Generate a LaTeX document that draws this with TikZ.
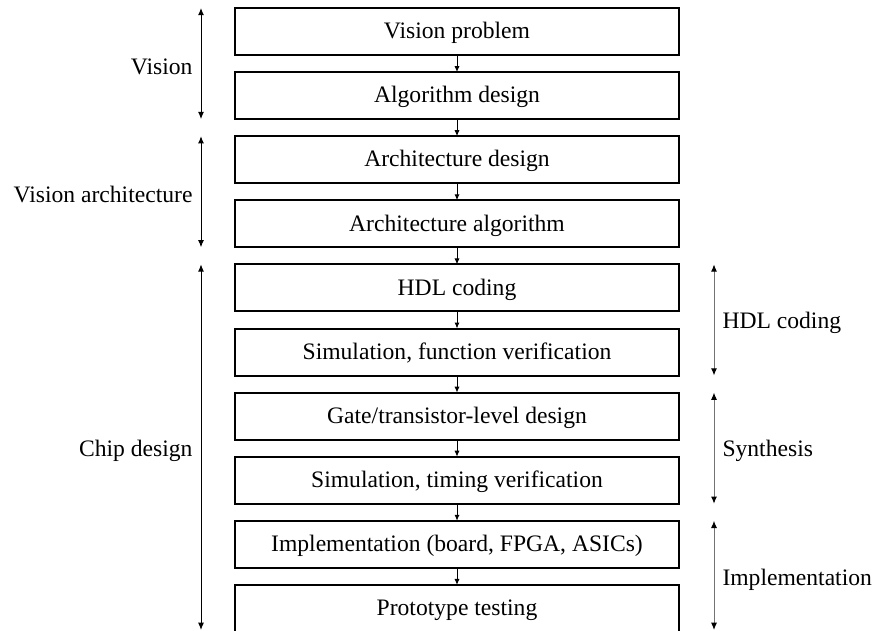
\documentclass[tikz,border=0pt]{standalone}
\usepackage{fontspec}
\setmainfont{Liberation Serif}
\usetikzlibrary{arrows.meta,positioning}

\begin{document}
\begin{tikzpicture}[x=0.5pt,y=-0.5pt,node distance=8.55pt,
  stage/.style={draw,line width=1pt,minimum width=222pt,minimum height=23.5pt,inner sep=0pt,outer sep=0pt,text height=9.5pt,text depth=2.2pt,font=\fontsize{11.8}{14}\selectfont},
  flow/.style={-{Latex[length=3pt,width=2.6pt]},line width=0.5pt},
  span/.style={{Latex[length=3.6pt,width=3pt]}-{Latex[length=3.6pt,width=3pt]},line width=0.5pt},
  rspan/.style={{Latex[length=3.6pt,width=3pt,color=black]}-{Latex[length=3.6pt,width=3pt,color=black]},line width=0.5pt,draw=black!55},
  tag/.style={font=\fontsize{11.8}{14}\selectfont,inner sep=0pt,yshift=-1.5pt}]
\useasboundingbox (0,0) rectangle (878,631);
% design flow, top to bottom
\node[stage] (b1) at (457,31.5) {Vision problem};
\node[stage,below=of b1] (b2) {Algorithm design};
\node[stage,below=of b2] (b3) {Architecture design};
\node[stage,below=of b3] (b4) {Architecture algorithm};
\node[stage,below=of b4] (b5) {HDL coding};
\node[stage,below=of b5] (b6) {Simulation, function verification};
\node[stage,below=of b6] (b7) {Gate/transistor-level design};
\node[stage,below=of b7] (b8) {Simulation, timing verification};
\node[stage,below=of b8] (b9) {Implementation (board, FPGA, ASICs)};
\node[stage,below=of b9] (b10) {Prototype testing};
\foreach \i [count=\j from 2] in {1,...,9} \draw[flow] (b\i) -- (b\j);
% phase spans
\coordinate (lx) at (201,0);
\coordinate (rx) at (714,0);
\draw[span] (b1.north -| lx) -- (b2.south -| lx) node[midway,left=4pt,tag] {Vision};
\draw[span] (b3.north -| lx) -- (b4.south -| lx) node[midway,left=4pt,tag] {Vision architecture};
\draw[span,shorten >=1pt] (b5.north -| lx) -- (b10.south -| lx) node[midway,left=4pt,tag] {Chip design};
\draw[rspan] (b5.north -| rx) -- (b6.south -| rx) node[midway,right=4pt,tag] {HDL coding};
\draw[rspan] (b7.north -| rx) -- (b8.south -| rx) node[midway,right=4pt,tag] {Synthesis};
\draw[rspan,shorten >=1pt] (b9.north -| rx) -- (b10.south -| rx) node[midway,right=4pt,tag] {Implementation};
\end{tikzpicture}
\end{document}
